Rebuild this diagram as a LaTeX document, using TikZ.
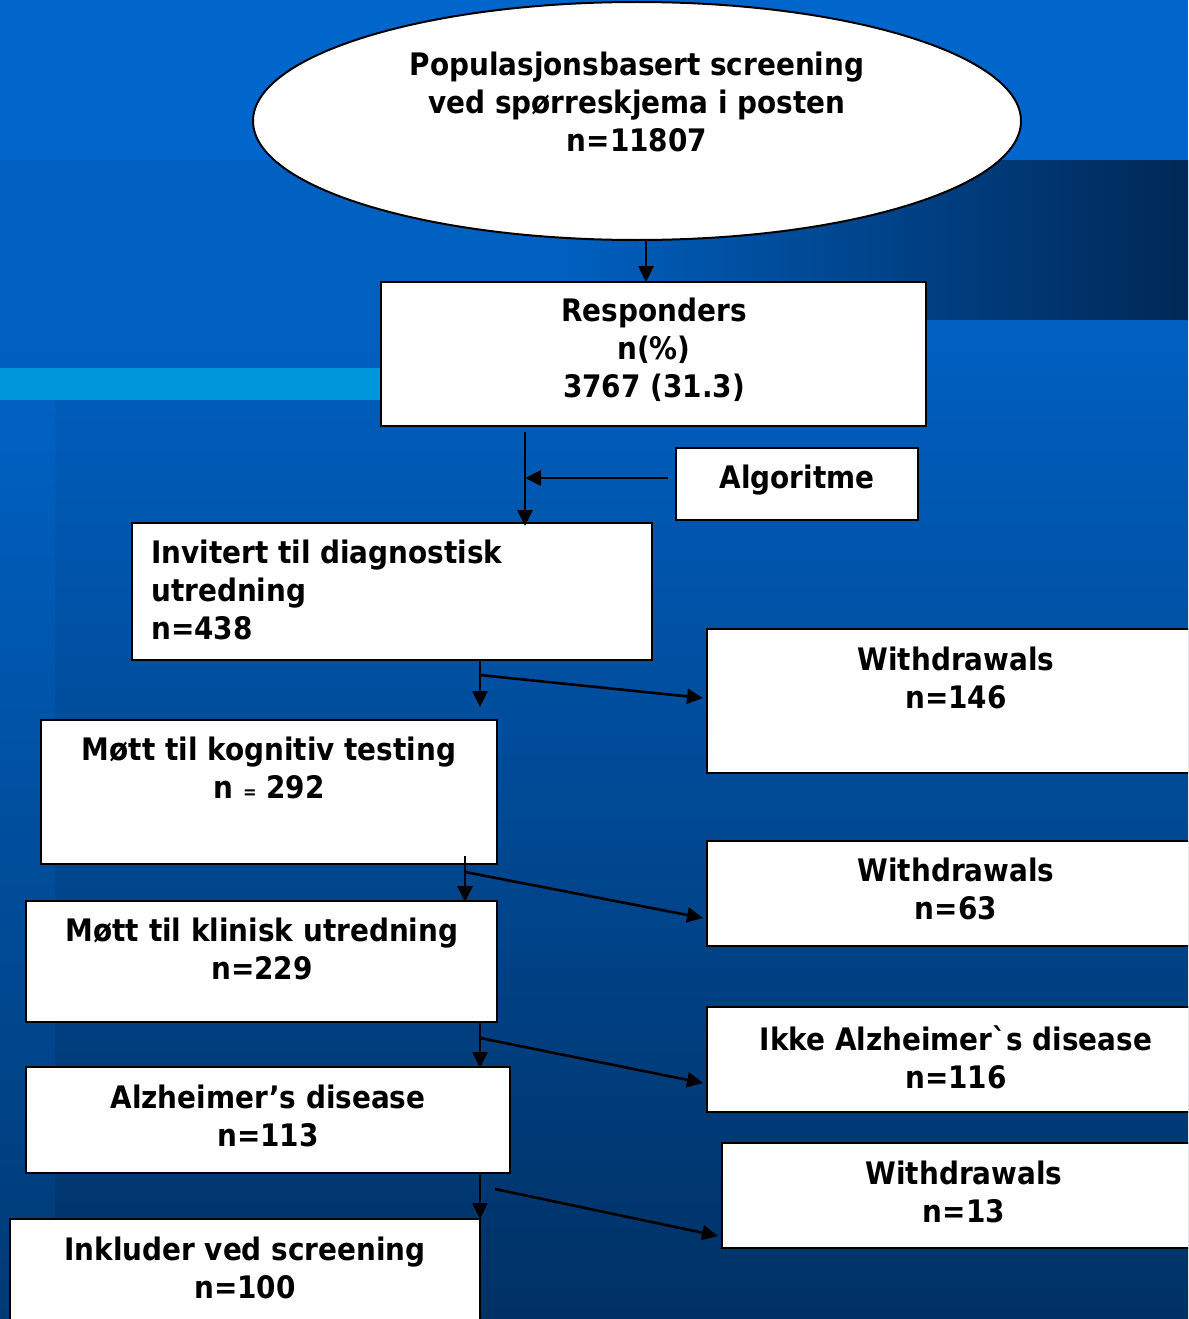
\documentclass[tikz,border=0pt]{standalone}
\usepackage{fontspec}
\newfontfamily\tfont{DejaVu Sans}[FakeStretch=0.9]
\usetikzlibrary{arrows.meta,shapes.geometric,calc}
\definecolor{bgtop}{RGB}{0,102,204}
\definecolor{bandL}{RGB}{0,96,192}
\definecolor{bandR}{RGB}{0,40,86}
\definecolor{mainT}{RGB}{0,96,194}
\definecolor{mainB}{RGB}{0,49,100}
\definecolor{stripT}{RGB}{0,97,195}
\definecolor{stripB}{RGB}{0,58,116}
\definecolor{cyanband}{RGB}{0,150,220}
\tikzset{
  bx/.style={draw=black, line width=2.4pt, fill=white, inner sep=0pt, outer sep=0pt, anchor=north west},
  txt/.style={font=\tfont\bfseries\fontsize{31}{38}\selectfont, align=center, inner sep=0pt, anchor=north, text=black},
  arr/.style={draw=black, line width=2.6pt, -{Triangle[length=16pt,width=15pt]}},
}
\begin{document}
\begin{tikzpicture}[x=1pt,y=-1pt]
\useasboundingbox (0,0) rectangle (1188,1319);
\clip (0,0) rectangle (1188,1319);
% background
\fill[bgtop] (0,0) rectangle (1188,160);
\fill[bandL] (0,160) rectangle (560,320);
\shade[left color=bandL, right color=bandR] (560,160) rectangle (1188,320);
\shade[top color=mainT, bottom color=mainB] (0,320) rectangle (1188,1319);
\shade[top color=stripT, bottom color=stripB] (0,400) rectangle (55,1319);
\fill[cyanband] (0,368) rectangle (381,400);

% ellipse
\node[ellipse, draw=black, line width=2pt, fill=white, inner sep=0pt, outer sep=0pt,
      minimum width=768pt, minimum height=238pt] (ell) at (637,121) {};
\node[txt] (ellt) at (637,52) {Populasjonsbasert screening\\ved spørreskjema i posten\\n=11807};

% boxes
\node[bx, minimum width=545pt, minimum height=144pt] (resp) at (381,282) {};
\node[bx, minimum width=242pt, minimum height=72pt] (algo) at (676,448) {};
\node[bx, minimum width=520pt, minimum height=137pt] (inv) at (132,523) {};
\node[bx, minimum width=500pt, minimum height=144pt] (w1) at (707,629) {};
\node[bx, minimum width=456pt, minimum height=144pt] (mk) at (41,720) {};
\node[bx, minimum width=500pt, minimum height=105pt] (w2) at (707,841) {};
\node[bx, minimum width=471pt, minimum height=121pt] (mkl) at (26,901) {};
\node[bx, minimum width=500pt, minimum height=105pt] (ikke) at (707,1007) {};
\node[bx, minimum width=484pt, minimum height=106pt] (alz) at (26,1067) {};
\node[bx, minimum width=485pt, minimum height=105pt] (w3) at (722,1143) {};
\node[bx, minimum width=470pt, minimum height=130pt] (ink) at (10,1219) {};

% texts
\node[txt] (respt) at (654,298) {Responders\\n(\%)\\3767 (31.3)};
\node[txt] (algot) at (797,465) {Algoritme};
\node[txt, align=left, anchor=north west] (invt) at (151,540) {Invitert til diagnostisk\\utredning\\n=438};
\node[txt] (w1t) at (956,647) {Withdrawals\\n=146};
\node[txt] (mkt) at (269,737) {Møtt til kognitiv testing\\n {\fontsize{18}{18}\selectfont =} 292};
\node[txt] (w2t) at (956,858) {Withdrawals\\n=63};
\node[txt] (mklt) at (262,918) {Møtt til klinisk utredning\\n=229};
\node[txt] (ikket) at (956,1025) {Ikke Alzheimer{\char"0060}s disease\\n=116};
\node[txt] (alzt) at (268,1085) {Alzheimer’s disease\\n=113};
\node[txt] (w3t) at (964,1161) {Withdrawals\\n=13};
\node[txt] (inkt) at (245,1237) {Inkluder ved screening\\n=100};

% connectors
\coordinate (j1) at ($(resp.south)+(-128.5,52)$);
\draw[arr] ($(ell.south)+(9,0)$) -- ($(resp.north)+(-7.5,0)$);
\draw[arr] ($(resp.south)+(-128.5,6)$) -- ($(inv.north)+(133,3)$);
\draw[arr] ($(algo.west)+(-8,-6)$) -- (j1);
\draw[arr] ($(inv.south)+(88,0)$) -- ($(mk.north)+(211,-13)$);
\draw[arr] ($(inv.south)+(88,15)$) -- ($(w1.west)+(-4,-3)$);
\draw[arr] ($(mk.south)+(196,-8)$) -- ($(mkl.north)+(203.5,1)$);
\draw[arr] ($(mk.south)+(196,8)$) -- ($(w2.west)+(-4,24.5)$);
\draw[arr] ($(mkl.south)+(218.5,0)$) -- ($(alz.north)+(212,1)$);
\draw[arr] ($(mkl.south)+(218.5,16)$) -- ($(ikke.west)+(-4,23.5)$);
\draw[arr] ($(alz.south)+(212,0)$) -- ($(ink.north)+(235,0)$);
\draw[arr] ($(alz.south)+(227,16)$) -- ($(w3.west)+(-4,40.5)$);
\end{tikzpicture}
\end{document}
